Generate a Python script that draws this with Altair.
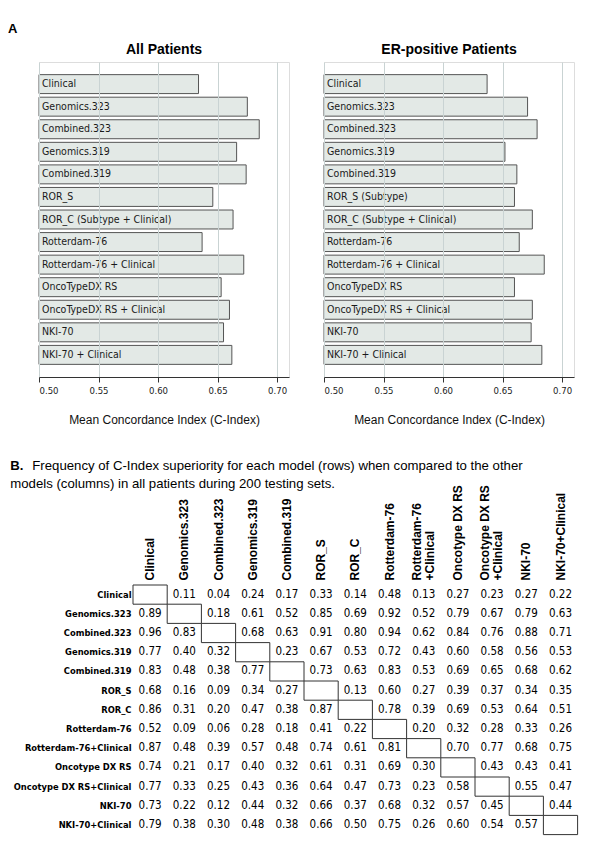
import altair as alt
import pandas as pd

NARROW = "'Liberation Sans Narrow', 'Arial Narrow', 'DejaVu Sans Condensed', sans-serif"
SANS = "'Liberation Sans', Arial, sans-serif"

# ---------------- Panel A data ----------------
models_all = ["Clinical", "Genomics.323", "Combined.323", "Genomics.319", "Combined.319",
              "ROR_S", "ROR_C (Subtype + Clinical)", "Rotterdam-76", "Rotterdam-76 + Clinical",
              "OncoTypeDX RS", "OncoTypeDX RS + Clinical", "NKI-70", "NKI-70 + Clinical"]
models_er = ["Clinical", "Genomics.323", "Combined.323", "Genomics.319", "Combined.319",
             "ROR_S (Subtype)", "ROR_C (Subtype + Clinical)", "Rotterdam-76", "Rotterdam-76 + Clinical",
             "OncoTypeDX RS", "OncoTypeDX RS + Clinical", "NKI-70", "NKI-70 + Clinical"]
cindex_all = [0.634, 0.675, 0.685, 0.666, 0.674, 0.646, 0.663, 0.637, 0.672, 0.653, 0.660, 0.655, 0.662]
cindex_er = [0.637, 0.671, 0.679, 0.652, 0.662, 0.660, 0.675, 0.664, 0.685, 0.660, 0.675, 0.674, 0.683]
x_ticks = [0.50, 0.55, 0.60, 0.65, 0.70]
x_domain = [0.50, 0.71]

# ---------------- Panel B data ----------------
row_labels = ["Clinical", "Genomics.323", "Combined.323", "Genomics.319", "Combined.319",
              "ROR_S", "ROR_C", "Rotterdam-76", "Rotterdam-76+Clinical", "Oncotype DX RS",
              "Oncotype DX RS+Clinical", "NKI-70", "NKI-70+Clinical"]
col_labels = ["Clinical", "Genomics.323", "Combined.323", "Genomics.319", "Combined.319",
              "ROR_S", "ROR_C", "Rotterdam-76", "Rotterdam-76|+Clinical", "Oncotype DX RS",
              "Oncotype DX RS|+Clinical", "NKI-70", "NKI-70+Clinical"]
freq = [
    [None, 0.11, 0.04, 0.24, 0.17, 0.33, 0.14, 0.48, 0.13, 0.27, 0.23, 0.27, 0.22],
    [0.89, None, 0.18, 0.61, 0.52, 0.85, 0.69, 0.92, 0.52, 0.79, 0.67, 0.79, 0.63],
    [0.96, 0.83, None, 0.68, 0.63, 0.91, 0.80, 0.94, 0.62, 0.84, 0.76, 0.88, 0.71],
    [0.77, 0.40, 0.32, None, 0.23, 0.67, 0.53, 0.72, 0.43, 0.60, 0.58, 0.56, 0.53],
    [0.83, 0.48, 0.38, 0.77, None, 0.73, 0.63, 0.83, 0.53, 0.69, 0.65, 0.68, 0.62],
    [0.68, 0.16, 0.09, 0.34, 0.27, None, 0.13, 0.60, 0.27, 0.39, 0.37, 0.34, 0.35],
    [0.86, 0.31, 0.20, 0.47, 0.38, 0.87, None, 0.78, 0.39, 0.69, 0.53, 0.64, 0.51],
    [0.52, 0.09, 0.06, 0.28, 0.18, 0.41, 0.22, None, 0.20, 0.32, 0.28, 0.33, 0.26],
    [0.87, 0.48, 0.39, 0.57, 0.48, 0.74, 0.61, 0.81, None, 0.70, 0.77, 0.68, 0.75],
    [0.74, 0.21, 0.17, 0.40, 0.32, 0.61, 0.31, 0.69, 0.30, None, 0.43, 0.43, 0.41],
    [0.77, 0.33, 0.25, 0.43, 0.36, 0.64, 0.47, 0.73, 0.23, 0.58, None, 0.55, 0.47],
    [0.73, 0.22, 0.12, 0.44, 0.32, 0.66, 0.37, 0.68, 0.32, 0.57, 0.45, None, 0.44],
    [0.79, 0.38, 0.30, 0.48, 0.38, 0.66, 0.50, 0.75, 0.26, 0.60, 0.54, 0.57, None],
]
caption_b = ["Frequency of C-Index superiority for each model (rows) when compared to the other",
             "models (columns) in all patients during 200 testing sets."]


def bar_panel(names, vals, title):
    df = pd.DataFrame({"order": list(range(len(names))), "model": names, "cindex": vals})
    ysc = alt.Scale(paddingInner=0.16, paddingOuter=0.56)
    xsc = alt.Scale(domain=x_domain, zero=False, nice=False)
    base = alt.Chart(df)
    bars = base.mark_bar(fill="#e3e9e6", stroke="#555555", strokeWidth=1).encode(
        y=alt.Y("order:O", scale=ysc, axis=None),
        x=alt.X("cindex:Q", scale=xsc,
                axis=alt.Axis(values=x_ticks, format=".2f", title="Mean Concordance Index (C-Index)",
                              grid=True, gridColor="#c9d3d3", gridWidth=1, zindex=1,
                              domainColor="#333333", tickColor="#333333", tickSize=5,
                              labelFont=NARROW, labelFontSize=9.5, labelColor="#222222",
                              labelPadding=3, titleFont=SANS, titleFontSize=12,
                              titleFontWeight="normal", titleColor="#111111", titlePadding=20)),
        x2=alt.datum(0.5),
    )
    labels = base.mark_text(align="left", baseline="middle", dx=3, font=NARROW,
                            fontSize=10.5, color="#1a1a1a").encode(
        y=alt.Y("order:O", scale=ysc, axis=None),
        x=alt.datum(0.5),
        text="model:N",
    )
    return alt.layer(bars, labels).properties(
        width=250, height=315,
        title=alt.TitleParams(title, font=SANS, fontSize=14, fontWeight="bold", color="black", offset=5),
    )


left = bar_panel(models_all, cindex_all, "All Patients")
right = bar_panel(models_er, cindex_er, "ER-positive Patients")

top = alt.hconcat(left, right, spacing=33).properties(
    title=alt.TitleParams("A", anchor="start", font=SANS, fontSize=13, fontWeight="bold",
                          color="black", dx=-30, offset=7)
)

# ---------------- table ----------------
cells = []
for i, r in enumerate(row_labels):
    for j, c in enumerate(col_labels):
        cells.append({"row": r, "col": c, "value": freq[i][j], "diag": i == j})
tdf = pd.DataFrame(cells)

xsc_t = alt.Scale(domain=col_labels, range=[94, 538.6], paddingInner=0, paddingOuter=0)
ysc_t = alt.Scale(domain=row_labels, paddingInner=0, paddingOuter=0)

tbase = alt.Chart(tdf)
nums = tbase.mark_text(font=NARROW, fontSize=11.5, color="black", baseline="middle", align="center").encode(
    x=alt.X("col:N", scale=xsc_t, sort=col_labels,
            axis=alt.Axis(orient="top", labelAngle=270, labelAlign="left", labelBaseline="middle",
                          labelExpr="split(datum.label, '|')", labelLineHeight=13,
                          labelOffset=alt.ConditionalAxisNumber(
                              condition={"test": "indexof(datum.value, '|') >= 0", "value": -7},
                              value=0),
                          labelFont=SANS, labelFontWeight="bold", labelFontSize=12, labelColor="black",
                          labelPadding=5, ticks=False, domain=False, title=None, labelOverlap=False)),
    y=alt.Y("row:N", scale=ysc_t, sort=row_labels,
            axis=alt.Axis(orient="left", offset=-94, ticks=False, domain=False, title=None,
                          labelFont=NARROW, labelFontWeight="bold", labelFontSize=9.3,
                          labelColor="black", labelPadding=2)),
    text=alt.Text("value:Q", format=".2f"),
).transform_filter("!datum.diag")

boxes = tbase.mark_rect(fillOpacity=0, stroke="#333333", strokeWidth=1).encode(
    x=alt.X("col:N", scale=xsc_t, sort=col_labels),
    y=alt.Y("row:N", scale=ysc_t, sort=row_labels),
).transform_filter("datum.diag")

table = alt.layer(nums, boxes).properties(
    width=540, height=249.6,
    view=alt.ViewBackground(stroke="transparent"),
    title=alt.TitleParams("B.", subtitle=["\u200b" + "\u00a0" * 6 + caption_b[0], caption_b[1]],
                          anchor="start", font=SANS, fontSize=13.2, fontWeight="bold", color="black",
                          subtitleFont=SANS, subtitleFontSize=13.2, subtitleColor="black",
                          subtitlePadding=-13.5, subtitleLineHeight=18, dx=-3, offset=-7),
)

chart = alt.vconcat(top, table, spacing=32).properties(
    padding={"left": 0, "top": 14, "right": 5, "bottom": 5}
).configure_view(stroke="#888888", strokeWidth=1.2).configure(font=SANS, background="white")

chart.save("out.html", embed_options={"renderer": "svg", "actions": False})
